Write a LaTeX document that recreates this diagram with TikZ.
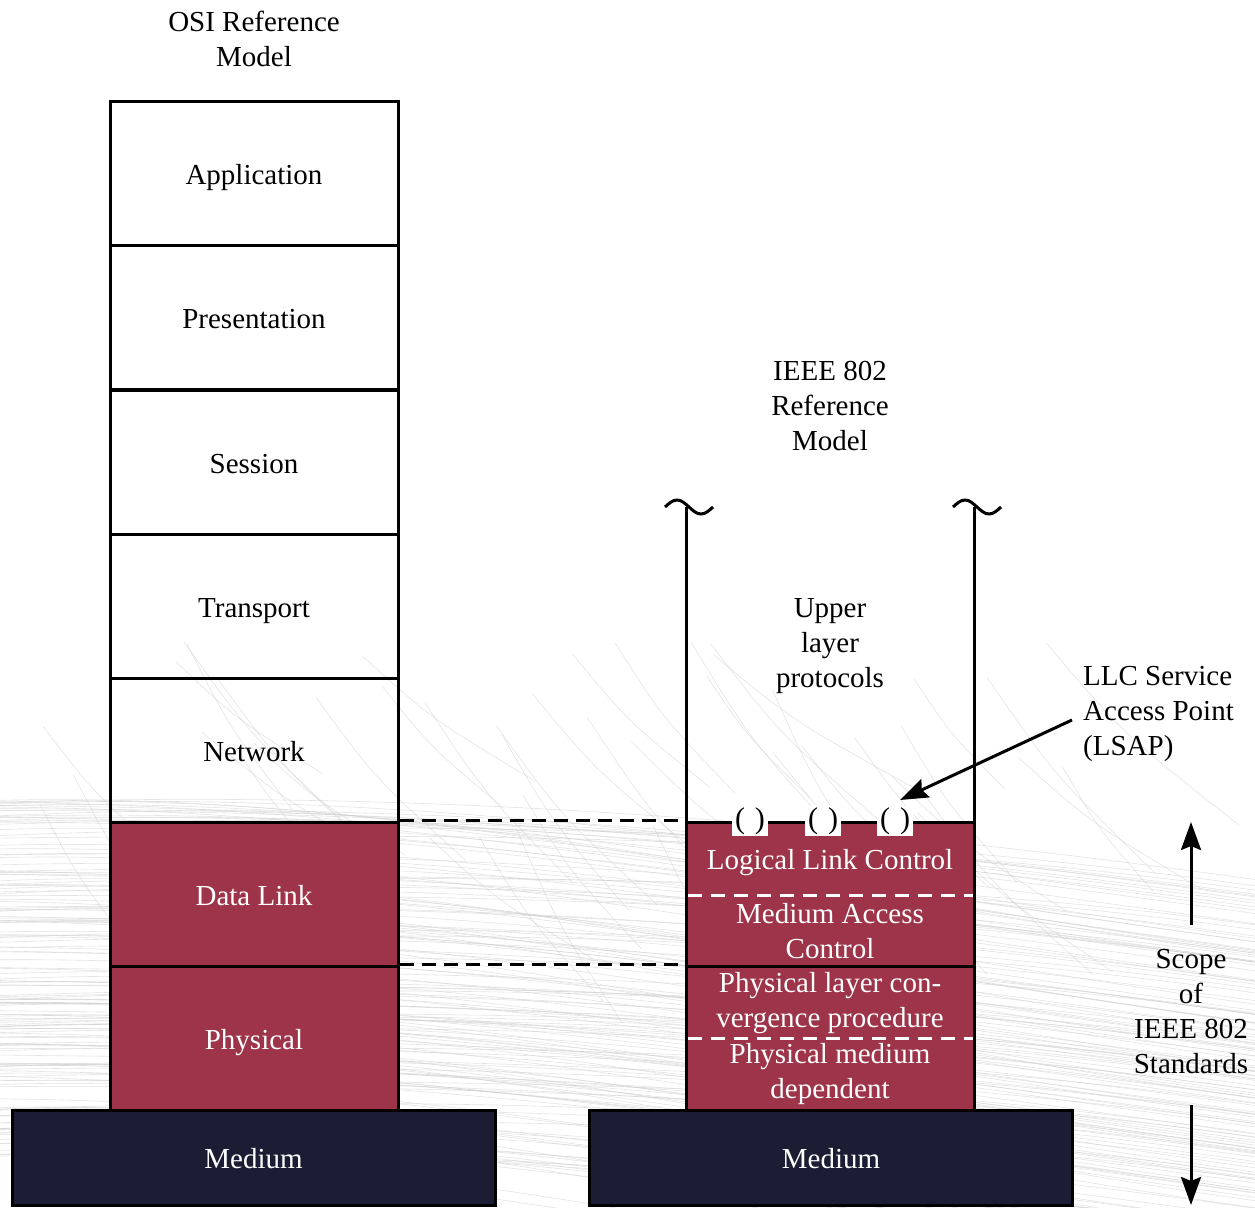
\documentclass[tikz,border=0pt]{standalone}
\usepackage{fontspec}
\setmainfont{Liberation Serif}
\usetikzlibrary{arrows.meta}
\definecolor{dlred}{RGB}{158,52,73}
\definecolor{navy}{RGB}{28,29,52}
\definecolor{hair}{RGB}{205,205,205}
\begin{document}
\begin{tikzpicture}[x=1pt,y=-1pt,
  base/.style={font=\fontsize{29}{35}\selectfont, align=center, inner sep=0pt},
  layer/.style={base, draw, line width=3pt, minimum width=288pt, minimum height=144pt, text height=22pt, text depth=0pt},
  osi/.style={layer},
  lower/.style={layer, fill=dlred, text=white},
  medium/.style={base, draw, line width=3pt, fill=navy, text=white, minimum width=483pt, minimum height=95pt, text height=21pt, text depth=0pt},
  sub/.style={base, text=white},
  whitedash/.style={white, line width=3pt, dash pattern=on 14pt off 9pt},
  blackdash/.style={black, line width=2.5pt, dash pattern=on 14pt off 8pt},
  sap/.style={draw=none, fill=white, minimum width=36pt, minimum height=30pt, inner sep=0pt, font=\fontsize{30}{30}\selectfont},
  arr/.style={line width=3pt, -{Stealth[length=28pt,width=20pt,inset=4pt]}},
  thick line/.style={line width=3pt},
  strand/.style={hair, line width=0.6pt, opacity=0.55}
]
\useasboundingbox (0,0) rectangle (1255,1207);

% faint brushed texture in the lower part of the sheet
\pgfmathsetseed{11}
\foreach \i in {1,...,150} {
  \pgfmathsetmacro{\ya}{800+rnd*360}
  \pgfmathsetmacro{\yb}{\ya+50+rnd*120}
  \pgfmathsetmacro{\yc}{\ya-20+rnd*30}
  \draw[strand] (0,\ya) .. controls (420,\yc) and (820,\yb-60) .. (1255,\yb);
}
\foreach \i in {1,...,45} {
  \pgfmathsetmacro{\xa}{rnd*1150}
  \pgfmathsetmacro{\ya}{640+rnd*200}
  \pgfmathsetmacro{\dx}{90+rnd*110}
  \pgfmathsetmacro{\dy}{110+rnd*90}
  \draw[strand] (\xa,\ya) .. controls (\xa+0.4*\dx,\ya+0.5*\dy) .. (\xa+\dx,\ya+\dy);
}

% OSI reference model stack
\node[base] (osititle) at (254,39) {OSI Reference\\Model};
\node[osi]   (app)  at (254,173)  {Application};
\node[osi]   (pres) at (254,317)  {Presentation};
\node[osi]   (sess) at (254,462)  {Session};
\node[osi]   (trans) at (254,606) {Transport};
\node[osi]   (net)  at (254,750)  {Network};
\node[lower] (dl)   at (254,894)  {Data Link};
\node[lower] (phy)  at (254,1038) {Physical};
\node[medium] (med1) at (253.5,1157.5) {Medium};

% IEEE 802 reference model
\node[base] (ieeetitle) at (830,406) {IEEE 802\\Reference\\Model};
\node[base] (upper) at (830,646) {Upper\\layer\\protocols};

\coordinate (lt) at (686,507);
\coordinate (rt) at (974,507);
\draw[thick line] (lt) -- (686,822);
\draw[thick line] (rt) -- (974,822);
\draw[thick line] (665,507) sin (677,500) cos (689,507) sin (701,514) cos (713,507);
\draw[thick line] (953,507) sin (965,500) cos (977,507) sin (989,514) cos (1001,507);

\node[layer, fill=dlred, minimum height=288pt] (ieee) at (830,966) {};
\draw[thick line] (ieee.west |- 0,966) -- (ieee.east |- 0,966);
\draw[whitedash] (687.5,895) -- (972.5,895);
\draw[whitedash] (687.5,1038) -- (972.5,1038);

\node[sub] (llc)  at (830,863)  {Logical Link Control};
\node[sub] (mac)  at (830,931)  {Medium Access\\Control};
\node[sub] (plcp) at (830,1003) {Physical layer con-\\vergence procedure};
\node[sub] (pmd)  at (830,1074) {Physical medium\\dependent};

\node[medium] (med2) at (831,1157.5) {Medium};

% service access points
\node[sap] (sap1) at (750,821) {(\,\,)};
\node[sap] (sap2) at (823,821) {(\,\,)};
\node[sap] (sap3) at (895,821) {(\,\,)};

% layer correspondence
\draw[blackdash] (dl.north east) -- (ieee.north west);
\draw[blackdash] (phy.north east) -- (ieee.west |- phy.north);

% LSAP label
\node[base, anchor=west, align=left] (lsap) at (1083,714) {LLC Service\\Access Point\\(LSAP)};
\coordinate (lsapfrom) at (1072,720);
\coordinate (lsapto) at (900,800);
\draw[arr] (lsapfrom) -- (lsapto);

% scope of the standards
\node[base] (scope) at (1191,1012) {Scope\\of\\IEEE 802\\Standards};
\coordinate (scopetop) at (1191,822);
\coordinate (scopebot) at (1191,1205);
\draw[arr] (1191,925) -- (scopetop);
\draw[arr] (1191,1105) -- (scopebot);
\end{tikzpicture}
\end{document}
